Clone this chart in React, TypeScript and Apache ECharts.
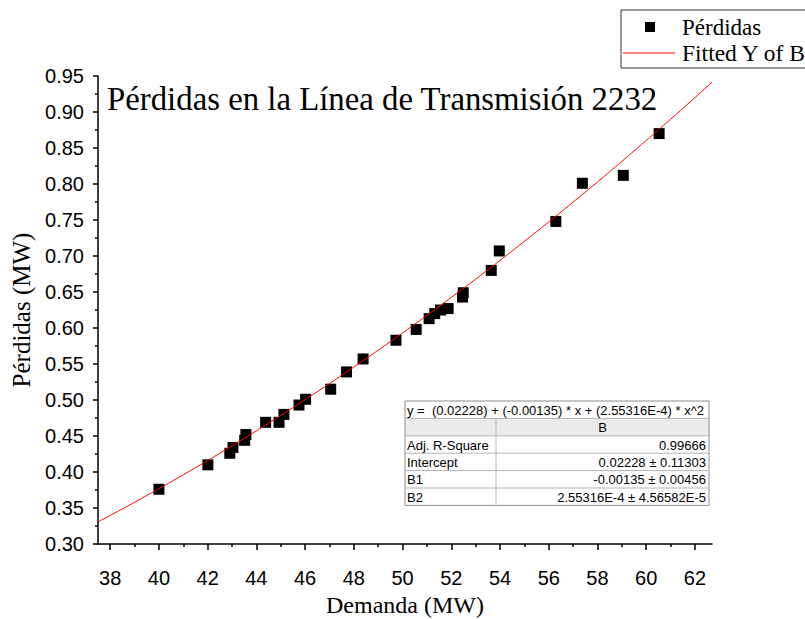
import React, { useEffect, useRef } from "react";
import * as echarts from "echarts";

// ---- data ----
const demand = [40.0, 42.01, 42.91, 43.04, 43.52, 43.57, 44.38, 44.93, 45.13, 45.75, 46.02, 47.05, 47.7, 48.38, 49.73, 50.56, 51.09, 51.32, 51.56, 51.87, 52.46, 52.49, 53.64, 53.97, 56.29, 57.38, 59.06, 60.53];
const losses = [0.376, 0.41, 0.426, 0.434, 0.444, 0.452, 0.469, 0.469, 0.48, 0.493, 0.501, 0.515, 0.539, 0.557, 0.583, 0.598, 0.613, 0.62, 0.625, 0.627, 0.643, 0.649, 0.68, 0.707, 0.748, 0.801, 0.812, 0.87];
// fitted polynomial coefficients shown in the table: B0, B1, B2
const fitCoefficients = [0.02228, -0.00135, 2.55316e-4];
const xTickLabels = [38, 40, 42, 44, 46, 48, 50, 52, 54, 56, 58, 60, 62];
const xMinorTicks = [39, 41, 43, 45, 47, 49, 51, 53, 55, 57, 59, 61];
const tableRows = [
  ["Adj. R-Square", "0.99666"],
  ["Intercept", "0.02228 \u00b1 0.11303"],
  ["B1", "-0.00135 \u00b1 0.00456"],
  ["B2", "2.55316E-4 \u00b1 4.56582E-5"],
];
const equationText = "y =  (0.02228) + (-0.00135) * x + (2.55316E-4) * x^2";

const X_MIN = 37.5;
const X_MAX = 62.7;

export default function App() {
  const ref = useRef<HTMLDivElement>(null);
  useEffect(() => {
    if (!ref.current) return;
    const chart = echarts.init(ref.current, null, { renderer: "svg" });

    const fit: number[][] = [];
    for (let i = 0; i <= 252; i++) {
      const x = X_MIN + i * 0.1;
      const y = fitCoefficients[0] + fitCoefficients[1] * x + fitCoefficients[2] * x * x;
      fit.push([x, y]);
    }

    const serif = "Liberation Serif";
    const sans = "Liberation Sans";
    const tFont = `13px ${sans}`;

    // table graphic
    const tL = 405, tR = 709, tT = 401, rowH = 17.4, colX = 496;
    const tableEls: any[] = [];
    tableEls.push({ type: "rect", shape: { x: tL, y: tT, width: tR - tL, height: rowH * 6 }, style: { fill: "#fff" } });
    tableEls.push({ type: "rect", shape: { x: tL, y: tT + rowH, width: tR - tL, height: rowH }, style: { fill: "#ebebeb" } });
    tableEls.push({ type: "rect", shape: { x: tL, y: tT, width: tR - tL, height: rowH * 6 }, style: { fill: "none", stroke: "#8c8c8c", lineWidth: 1 } });
    for (let r = 1; r < 6; r++) {
      tableEls.push({ type: "line", shape: { x1: tL, y1: tT + r * rowH, x2: tR, y2: tT + r * rowH }, style: { stroke: "#b4b4b4", lineWidth: 1 } });
    }
    tableEls.push({ type: "line", shape: { x1: colX, y1: tT + rowH, x2: colX, y2: tT + 6 * rowH }, style: { stroke: "#b4b4b4", lineWidth: 1 } });
    tableEls.push({ type: "text", x: tL + 2, y: tT + rowH / 2 + 0.5, style: { text: equationText, font: tFont, fill: "#000", textVerticalAlign: "middle", textAlign: "left" } });
    tableEls.push({ type: "text", x: (colX + tR) / 2, y: tT + rowH * 1.5 + 0.5, style: { text: "B", font: tFont, fill: "#000", textVerticalAlign: "middle", textAlign: "center" } });
    tableRows.forEach((row, i) => {
      const cy = tT + rowH * (2.5 + i) + 0.5;
      tableEls.push({ type: "text", x: tL + 2, y: cy, style: { text: row[0], font: tFont, fill: "#000", textVerticalAlign: "middle", textAlign: "left" } });
      tableEls.push({ type: "text", x: tR - 3, y: cy, style: { text: row[1], font: tFont, fill: "#000", textVerticalAlign: "middle", textAlign: "right" } });
    });

    const legendEls: any[] = [
      { type: "rect", shape: { x: 621, y: 10, width: 200, height: 58 }, style: { fill: "#fff", stroke: "#333", lineWidth: 1 } },
      { type: "rect", shape: { x: 645, y: 22, width: 10, height: 10 }, style: { fill: "#000" } },
      { type: "text", x: 682, y: 27, style: { text: "Pérdidas", font: `23px ${serif}`, fill: "#000", textVerticalAlign: "middle" } },
      { type: "line", shape: { x1: 623, y1: 53, x2: 675, y2: 53 }, style: { stroke: "#ff0000", lineWidth: 1 } },
      { type: "text", x: 682, y: 53, style: { text: "Fitted Y of B", font: `23.5px ${serif}`, fill: "#000", textVerticalAlign: "middle" } },
    ];

    const axisLineStyle = { color: "#000", width: 1.5 };

    chart.setOption({
      animation: false,
      backgroundColor: "#fff",
      title: {
        text: "Pérdidas en la Línea de Transmisión 2232",
        left: 107,
        top: 82,
        textStyle: { fontFamily: serif, fontSize: 32.8, fontWeight: "normal", color: "#000" },
        padding: 0,
      },
      grid: { left: 98, right: 93, top: 76, bottom: 75, containLabel: false, outerBoundsMode: "none" },
      xAxis: [
        {
          type: "value",
          min: X_MIN,
          max: X_MAX,
          splitNumber: 12,
          axisLine: { show: true, onZero: false, lineStyle: axisLineStyle },
          axisTick: { show: true, customValues: xTickLabels, length: 6, lineStyle: axisLineStyle },
          axisLabel: { customValues: xTickLabels, color: "#000", fontFamily: sans, fontSize: 20, margin: 24 },
          splitLine: { show: false },
          name: "Demanda (MW)",
          nameLocation: "middle",
          nameGap: 50,
          nameTextStyle: { fontFamily: serif, fontSize: 24, lineHeight: 22, color: "#000" },
        },
        {
          type: "value",
          min: X_MIN,
          max: X_MAX,
          position: "bottom",
          axisLine: { show: false, onZero: false },
          axisTick: { show: true, customValues: xMinorTicks, length: 3, lineStyle: axisLineStyle },
          axisLabel: { show: false },
          splitLine: { show: false },
        },
      ],
      yAxis: {
        type: "value",
        min: 0.3,
        max: 0.95,
        interval: 0.05,
        axisLine: { show: true, onZero: false, lineStyle: axisLineStyle },
        axisTick: { show: true, length: 5, lineStyle: axisLineStyle },
        minorTick: { show: true, splitNumber: 2, length: 3, lineStyle: axisLineStyle },
        axisLabel: { color: "#000", fontFamily: sans, fontSize: 20, margin: 14, formatter: (v: number) => v.toFixed(2) },
        splitLine: { show: false },
        name: "Pérdidas (MW)",
        nameLocation: "middle",
        nameGap: 55,
        nameTextStyle: { fontFamily: serif, fontSize: 25, color: "#000" },
      },
      series: [
        {
          name: "Pérdidas",
          type: "scatter",
          symbol: "rect",
          symbolSize: 11,
          itemStyle: { color: "#000", opacity: 1 },
          data: demand.map((d, i) => [d, losses[i]]),
          z: 2,
        },
        {
          name: "Fitted Y of B",
          type: "line",
          data: fit,
          showSymbol: false,
          symbol: "none",
          lineStyle: { color: "#ff0000", width: 1 },
          z: 3,
        },
      ],
      graphic: [...tableEls, ...legendEls],
    });
    return () => chart.dispose();
  }, []);
  return (
    <div style={{ position: "fixed", left: 0, top: 0, width: 805, height: 619, background: "#fff" }}>
      <div ref={ref} style={{ width: 805, height: 619 }} />
    </div>
  );
}
